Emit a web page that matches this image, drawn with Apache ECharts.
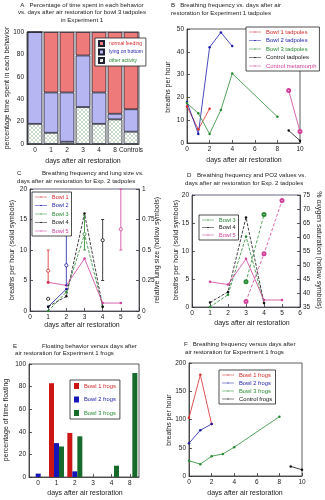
<!DOCTYPE html>
<html><head><meta charset="utf-8">
<script src="https://cdn.jsdelivr.net/npm/echarts@6/dist/echarts.min.js"></script>
<style>html,body{margin:0;padding:0;background:#fff}#c{width:325px;height:500px}</style>
</head><body><div id="c"></div>
<script>
// ---------- Panel A data ----------
const aCats = ['0','1','2','3','4','8','Controls'];
const aOther = [18,10,2,33,18,22,11];
const aLying = [82,36,44,46,28,5,20];
const aFeeding = [0,54,54,21,54,73,69];
// ---------- Panel B data ----------
const bBowl1 = [[0,16],[1,6],[2,15]];
const bBowl2 = [[0,18],[1,4],[2,42],[3,48.5],[4,42.5]];
const bBowl3 = [[0,17.5],[1,13],[2,4],[3,14.5],[4,30.5],[8,11.5]];
const bControlTad = [[9,5.5],[10,1]];
const bControlMeta = [[9,23],[10,5]];
// ---------- Panel C data ----------
const cBowl1 = [[1,4.7]];
const cBowl2 = [[1,0.7],[2,3.6]];
const cBowl3 = [[1,0],[2,3.1],[3,12.6],[4,0.7]];
const cBowl4 = [[1,0.7],[2,2.4],[3,16],[4,0.7]];
const cBowl5 = [[1,4.7],[2,4.2],[3,8.6],[4,1.3],[5,1.3]];
const cLungDays = [1,1,2,3,4,5];
const cLungBowl = ['Bowl 1','Bowl 4','Bowl 2','Bowl 3','Bowl 4','Bowl 5'];
const cLungLow  = [0.23,0.1,0.21,0.5,0.25,0.5];
const cLungMid  = [0.33,0.1,0.375,0.63,0.58,0.67];
const cLungHigh = [0.5,0.1,0.76,0.78,0.75,1.0];
// ---------- Panel D data ----------
const dBowl3 = [[1,0],[2,2.2],[3,12.6],[4,0.7]];
const dBowl4 = [[1,0.8],[2,2.7],[3,16],[4,0.7]];
const dBowl5 = [[1,4.5],[2,4.0],[3,8.6],[4,1.25],[5,1.25]];
const dSat3 = [[3,44],[4,68]];
const dSat5 = [[3,37],[4,54],[5,73]];
// ---------- Panel E data ----------
const eCats = ['0','1','2','3','4','8'];
const eBowl1 = [0,83,39,0,0,0];
const eBowl2 = [3,30,5,0,0,0];
const eBowl3 = [0,27,36,0,10,92];
// ---------- Panel F data ----------
const fBowl1 = [[0,103],[1,179],[2,92]];
const fBowl2 = [[0,58],[1,81],[2,92]];
const fBowl3 = [[0,27],[1,21],[2,35],[3,39],[4,51],[8,105]];
const fControl = [[9,17],[10,11]];

const RED='#d42a2a', BLUE='#1c1ca8', GREEN='#2a8a34', BLACK='#111', PINK='#d0409a';
const bowlColor = {'Bowl 1':RED,'Bowl 2':BLUE,'Bowl 3':GREEN,'Bowl 4':BLACK,'Bowl 5':PINK};
const FONT='Liberation Sans';
const LINE_ICON='path://M0,1.7H20V2.3H0Z M8.8,1H11.2V3H8.8Z';

// hatch pattern
const pc=document.createElement('canvas'); pc.width=4; pc.height=4;
const g=pc.getContext('2d'); g.fillStyle='#fff'; g.fillRect(0,0,4,4);
g.strokeStyle='#a6bfa6'; g.lineWidth=0.6;
g.beginPath(); g.moveTo(0,4); g.lineTo(4,0); g.moveTo(0,0); g.lineTo(4,4); g.stroke();
const hatch={image:pc, repeat:'repeat'};

function grid(l,t,w,h,bc){return {left:l,top:t,width:w,height:h,show:true,borderColor:bc||'#333',borderWidth:0.8,containLabel:false};}
const axLine={show:true,lineStyle:{color:'#333',width:0.8}};
const axTick={show:true,inside:true,length:3,lineStyle:{color:'#333',width:0.8}};
const axLabel={fontSize:6.5,color:'#222',margin:3,fontFamily:FONT};
function vAx(gi,min,max,interval,extra){return Object.assign({type:'value',gridIndex:gi,min:min,max:max,interval:interval,axisLine:axLine,axisTick:axTick,axisLabel:axLabel,splitLine:{show:false}},extra||{});}
function cAx(gi,data,extra){return Object.assign({type:'category',gridIndex:gi,data:data,axisLine:axLine,axisTick:{show:true,inside:true,length:3,alignWithLabel:true,lineStyle:{color:'#333',width:0.8}},axisLabel:Object.assign({},axLabel,{interval:0}),splitLine:{show:false}},extra||{});}
function lineS(name,xi,yi,data,color,extra){return Object.assign({type:'line',name:name,xAxisIndex:xi,yAxisIndex:yi,data:data,symbol:'circle',symbolSize:2.5,showSymbol:true,lineStyle:{color:color,width:0.8},itemStyle:{color:color},animation:false,z:3},extra||{});}
function legend(l,t,items,o){return Object.assign({orient:'vertical',left:l,top:t,data:items.map(function(it){return {name:it[0],textStyle:{color:it[1]}};}),icon:LINE_ICON,itemWidth:12,itemHeight:4,itemGap:2,padding:[2,3],borderColor:'#222',borderWidth:0.8,backgroundColor:'#fff',textStyle:{fontSize:5.5,fontFamily:FONT},selectedMode:false,z:10},o||{});}

function txt(s,x,y,size,align,rot){return {type:'text',x:x,y:y,rotation:rot||0,silent:true,style:{text:s,font:size+'px "'+FONT+'"',fill:'#222',textAlign:align||'left',textVerticalAlign:'middle'}};}
const TS=6.1, NS=7;
const R=Math.PI/2;

const option={
  animation:false,
  grid:[grid(27,32,112,112), grid(187,29,113,114), grid(30,189,109,122,'#446'), grid(192,195,108,112,'#446'), grid(29,364,110,113), grid(189,363,113,113)],
  xAxis:[
    cAx(0,aCats),
    vAx(1,0,10,2),
    vAx(2,0,6,1),
    vAx(3,0,6,1),
    cAx(4,eCats),
    vAx(5,0,10,2)
  ],
  yAxis:[
    vAx(0,0,100,20),
    vAx(1,0,50,10),
    vAx(2,0,20,5),
    vAx(2,0,1,0.25,{position:'right'}),
    vAx(3,0,20,5),
    vAx(3,35,75,5,{position:'right'}),
    vAx(4,0,100,20),
    vAx(5,0,200,50)
  ],
  legend:[
    legend(95,38,[['normal feeding',RED],['lying on bottom',BLUE],['other activity',GREEN]],{itemWidth:5,itemHeight:5,itemGap:1.5,icon:'rect',textStyle:{fontSize:5,fontFamily:FONT}}),
    legend(246,27,[['Bowl 1 tadpoles',RED],['Bowl 2 tadpoles',BLUE],['Bowl 3 tadpoles',GREEN],['Control tadpoles',BLACK],['Control metamorph',PINK]],{textStyle:{fontSize:5.9,fontFamily:FONT},itemGap:2.5,itemWidth:12}),
    legend(32,192,[['Bowl 1',RED],['Bowl 2',BLUE],['Bowl 3',GREEN],['Bowl 4',BLACK],['Bowl 5',PINK]],{itemGap:2.5}),
    legend(199,215,[['Bowl 3',GREEN],['Bowl 4',BLACK],['Bowl 5',PINK]],{itemGap:1.5}),
    legend(70,380,[['Bowl 1 frogs',RED],['Bowl 2 frogs',BLUE],['Bowl 3 frogs',GREEN]],{icon:'rect',itemWidth:5,itemHeight:6,itemGap:7.5,padding:[3,4],textStyle:{fontSize:5.8,fontFamily:FONT}}),
    legend(219,370,[['Bowl 1 frogs ',RED],['Bowl 2 frogs ',BLUE],['Bowl 3 frogs ',GREEN],['Control frogs',BLACK]],{itemGap:2,textStyle:{fontSize:5.8,fontFamily:FONT}})
  ],
  series:[
    // A
    {type:'bar',name:'other activity',xAxisIndex:0,yAxisIndex:0,stack:'a',data:aOther,barCategoryGap:'8%',itemStyle:{color:hatch,borderColor:'#223',borderWidth:0.8}},
    {type:'bar',name:'lying on bottom',xAxisIndex:0,yAxisIndex:0,stack:'a',data:aLying,barCategoryGap:'8%',itemStyle:{color:'#b6b6f2',borderColor:'#223',borderWidth:0.8}},
    {type:'bar',name:'normal feeding',xAxisIndex:0,yAxisIndex:0,stack:'a',data:aFeeding,barCategoryGap:'8%',itemStyle:{color:'#ef7a7a',borderColor:'#223',borderWidth:0.8}},
    // B
    lineS('Bowl 1 tadpoles',1,1,bBowl1,RED),
    lineS('Bowl 2 tadpoles',1,1,bBowl2,BLUE),
    lineS('Bowl 3 tadpoles',1,1,bBowl3,GREEN),
    lineS('Control tadpoles',1,1,bControlTad,BLACK),
    lineS('Control metamorph',1,1,bControlMeta,PINK,{symbol:'emptyCircle',symbolSize:3}),
    // C
    lineS('Bowl 1',2,2,cBowl1,RED),
    lineS('Bowl 2',2,2,cBowl2,BLUE),
    lineS('Bowl 3',2,2,cBowl3,GREEN,{lineStyle:{color:GREEN,width:0.8,type:[3,1.5]}}),
    lineS('Bowl 4',2,2,cBowl4,BLACK,{lineStyle:{color:BLACK,width:0.8,type:[3,1.5]}}),
    lineS('Bowl 5',2,2,cBowl5,PINK),
    {type:'custom',name:'lung',xAxisIndex:2,yAxisIndex:3,z:4,
     data:cLungDays.map(function(d,i){return [d,cLungLow[i],cLungMid[i],cLungHigh[i]];}),
     encode:{x:0,y:[1,2,3]},
     renderItem:function(params,api){
       var x=api.value(0), lo=api.coord([x,api.value(1)]), mi=api.coord([x,api.value(2)]), hi=api.coord([x,api.value(3)]);
       var col=bowlColor[cLungBowl[params.dataIndex]];
       var st={stroke:col,lineWidth:0.8,fill:null};
       return {type:'group',children:[
         {type:'line',shape:{x1:lo[0],y1:lo[1],x2:hi[0],y2:hi[1]},style:st},
         {type:'line',shape:{x1:lo[0]-1.5,y1:lo[1],x2:lo[0]+1.5,y2:lo[1]},style:st},
         {type:'line',shape:{x1:hi[0]-1.5,y1:hi[1],x2:hi[0]+1.5,y2:hi[1]},style:st},
         {type:'circle',shape:{cx:mi[0],cy:mi[1],r:1.6},style:{stroke:col,lineWidth:0.8,fill:'#fff'}}
       ]};
     }},
    // D
    lineS('Bowl 3',3,4,dBowl3,GREEN,{lineStyle:{color:GREEN,width:0.8,type:[3,1.5]}}),
    lineS('Bowl 4',3,4,dBowl4,BLACK,{lineStyle:{color:BLACK,width:0.8,type:[3,1.5]}}),
    lineS('Bowl 5',3,4,dBowl5,PINK),
    lineS('sat3',3,5,dSat3,GREEN,{symbol:'emptyCircle',symbolSize:3,lineStyle:{color:GREEN,width:0.8,type:[3,2]}}),
    lineS('sat5',3,5,dSat5,PINK,{symbol:'emptyCircle',symbolSize:3,lineStyle:{color:PINK,width:0.8,type:[3,2]}}),
    // E
    {type:'bar',name:'Bowl 1 frogs',xAxisIndex:4,yAxisIndex:6,data:eBowl1,barWidth:5,barGap:'0%',itemStyle:{color:'#cc1616'}},
    {type:'bar',name:'Bowl 2 frogs',xAxisIndex:4,yAxisIndex:6,data:eBowl2,barWidth:5,barGap:'0%',itemStyle:{color:'#1616b8'}},
    {type:'bar',name:'Bowl 3 frogs',xAxisIndex:4,yAxisIndex:6,data:eBowl3,barWidth:5,barGap:'0%',itemStyle:{color:'#166a2a'}},
    // F
    lineS('Bowl 1 frogs ',5,7,fBowl1,RED),
    lineS('Bowl 2 frogs ',5,7,fBowl2,BLUE),
    lineS('Bowl 3 frogs ',5,7,fBowl3,GREEN),
    lineS('Control frogs',5,7,fControl,BLACK)
  ],
  graphic:[
    txt('A   Percentage of time spent in each behavior',82,5,TS,'center'),
    txt('vs. days after air restoration for bowl 3 tadpoles',82,12.5,TS,'center'),
    txt('in Experiment 1',82,20,TS,'center'),
    txt('B   Breathing frequency vs. days after air',171,5,TS),
    txt('restoration for Experiment 1 tadpoles',171,13,TS),
    txt('C',17,173,TS),
    txt('Breathing frequency and lung size vs.',42,173,TS),
    txt('days after air restoration for Exp. 2 tadpoles',17,181,TS),
    txt('D',187,175,TS),
    txt('Breathing frequency and PO2 values vs.',197,175,TS),
    txt('days after air restoration for Exp. 2 tadpoles',185,183,TS),
    txt('E',13,346,TS),
    txt('Floating behavior versus days after',42,346,TS),
    txt('air restoration for Experiment 1 frogs',15,353.5,TS),
    txt('F   Breathing frequency versus days after',184,344,TS),
    txt('air restoration for Experiment 1 frogs',185,352,TS),
    txt('days after air restoration',83,161,NS,'center'),
    txt('percentage time spent in each behavior',7,88,NS,'center',R),
    txt('days after air restoration',244,160,NS,'center'),
    txt('breaths per hour',168,87,NS,'center',R),
    txt('days after air restoration',82,325,NS,'center'),
    txt('breaths per hour (solid symbols)',12,250,NS,'center',R),
    txt('relative lung size (hollow symbols)',157,250,NS,'center',R),
    txt('days after air restoration',252,323,NS,'center'),
    txt('breaths per hour (solid symbols)',176,250,NS,'center',R),
    txt('% oxygen saturation (hollow symbols)',319,250,NS,'center',-R),
    txt('days after air restoration',85,493,NS,'center'),
    txt('percentage of time floating',6,420,NS,'center',R),
    txt('days after air restoration',245,493,NS,'center'),
    txt('breaths per hour',169,420,NS,'center',R)
  ]
};
const chart=echarts.init(document.getElementById('c'),null,{renderer:'canvas'});
chart.setOption(option);
</script></body></html>
